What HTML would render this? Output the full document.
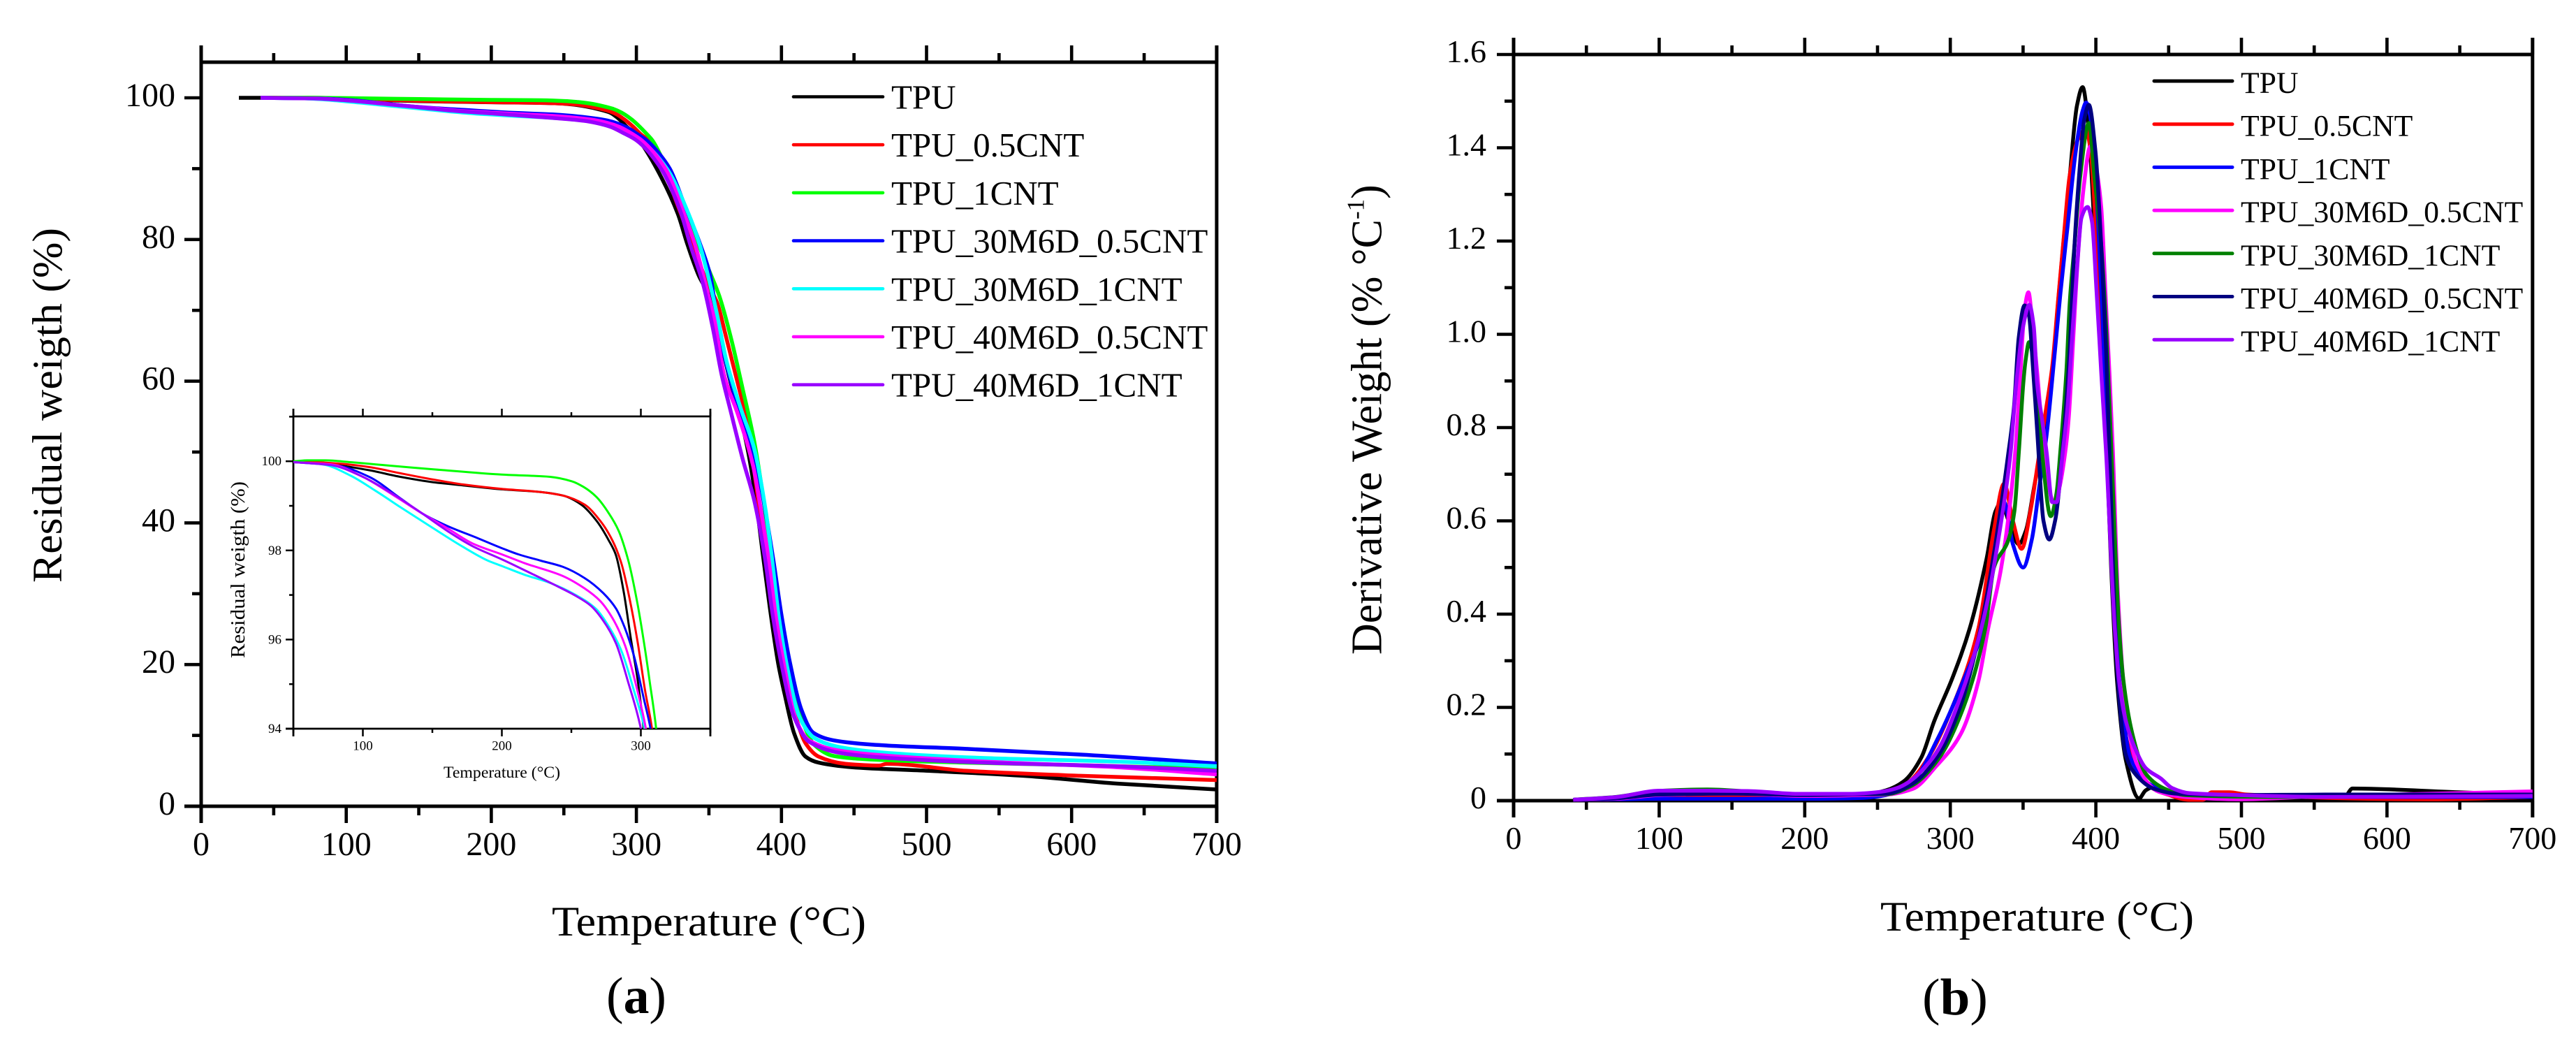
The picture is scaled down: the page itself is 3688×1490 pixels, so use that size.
<!DOCTYPE html>
<html lang="en">
<head>
<meta charset="utf-8">
<title>TGA and DTG curves</title>
<style>
html,body{margin:0;padding:0;background:#fff;width:3688px;height:1490px;overflow:hidden}
#stage{position:absolute;left:0;top:0;width:3688px;height:1490px;overflow:hidden}
svg{display:block;font-family:"Liberation Serif",serif;fill:#000}
</style>
</head>
<body>
<div id="stage">
<svg id="fig" xmlns="http://www.w3.org/2000/svg" width="3688" height="1490" viewBox="0 0 3688 1490">
  <defs>
    <clipPath id="insetClip"><rect x="420" y="596" width="597" height="447"/></clipPath>
  </defs>
  <g id="panelA">
    <text transform="translate(88,834) rotate(-90)" font-size="60" textLength="508" lengthAdjust="spacingAndGlyphs">Residual weigth (%)</text>
    <text x="790" y="1339" font-size="60" textLength="450" lengthAdjust="spacingAndGlyphs">Temperature (°C)</text>
    <text x="868" y="1450" font-size="74" textLength="86" lengthAdjust="spacingAndGlyphs">(<tspan font-weight="bold">a</tspan>)</text>
  </g>
  <g id="panelInset">
    <text transform="translate(350,942) rotate(-90)" font-size="28" textLength="253" lengthAdjust="spacingAndGlyphs">Residual weigth (%)</text>
    <text x="635" y="1113" font-size="23.5" textLength="167" lengthAdjust="spacingAndGlyphs">Temperature (°C)</text>
  </g>
  <g id="panelB">
    <text transform="translate(1977.5,937) rotate(-90)" font-size="62">Derivative Weight (% °C<tspan dy="-25" font-size="35">-1</tspan><tspan dy="25">)</tspan></text>
    <text x="2692" y="1332" font-size="60" textLength="449" lengthAdjust="spacingAndGlyphs">Temperature (°C)</text>
    <text x="2752" y="1452" font-size="74" textLength="94" lengthAdjust="spacingAndGlyphs">(<tspan font-weight="bold">b</tspan>)</text>
  </g>
</svg>
</div>
<script>
// ---------- Panel (a) / inset: residual weight [temperature, weight %] ----------
const tgaTpu = [[26,100],[50,100],[82,99.91],[104.5,99.8],[127,99.65],[150.6,99.53],[172,99.46],[200,99.37],[228,99.31],[244,99.23],[257,99.03],[268,98.67],[277,98.22],[282,97.9],[287.5,97.1],[293,95.98],[297.5,95.14],[302,94],[314,90],[328.6,83.6],[335.2,79.3],[342.8,75],[351.6,71.4],[355.6,67.8],[363.6,60.9],[375.7,51.4],[381.3,44.8],[387.4,35.2],[392,28],[397.8,20.1],[402.2,15.8],[408.7,10.3],[416.6,7],[425.7,6.15],[449,5.5],[501.4,5],[566.6,4.3],[631.8,3.2],[700,2.37]];
const tgaTpu05 = [[41,100],[50,100],[82,99.95],[104.5,99.87],[127,99.73],[150.6,99.59],[172,99.48],[200,99.38],[228,99.31],[244,99.23],[259.5,99.03],[270.6,98.67],[279.6,98.22],[286,97.71],[291,97.05],[297.5,95.98],[303,94.86],[308,94],[318,90.3],[330,84],[338.8,79.3],[349.2,73.7],[355.6,71.1],[362,66.1],[370,59.6],[376.5,54],[382.9,44.8],[389.3,35.2],[395,27],[400.9,20.1],[408.7,13.5],[416.6,8.9],[425.7,7],[444,6],[467.4,5.75],[472.7,6],[527.5,5],[605.8,4.3],[700,3.7]];
const tgaTpu1 = [[41,100],[50,100],[60,100.02],[73,100.02],[91,99.98],[116,99.91],[150.6,99.82],[200,99.7],[234.7,99.65],[250.4,99.55],[259,99.42],[268,99.2],[277,98.83],[284,98.44],[291,97.77],[297.5,96.82],[302,95.98],[306.5,95.03],[311,94],[321,90],[333,84.5],[342.8,79.3],[350.8,75.3],[357.2,72],[365.2,66.1],[373.3,58.9],[381.3,51.4],[387.7,43.1],[392.5,35.2],[399,27],[406,20.1],[415.3,11.6],[423,8.6],[436,7.1],[462.2,6.6],[527.5,6.15],[605.8,5.8],[700,5.3]];
const tga30M05 = [[41,100],[50,99.98],[82,99.9],[104.5,99.65],[127,99.17],[142.6,98.83],[160.6,98.55],[183,98.27],[200,98.05],[212,97.91],[228,97.77],[244,97.63],[259.5,97.38],[273,97.04],[282,96.7],[288.5,96.26],[295,95.64],[302,94.69],[307,94],[315,92.3],[323,90],[333,85],[344,79.3],[350.8,75],[357.2,66.8],[365.2,59.9],[374.9,53.3],[384.5,46.4],[394.1,35.2],[400,27],[406,20.1],[414,13.5],[421.8,10.4],[436,9.3],[462.2,8.7],[527.5,8.1],[605.8,7.3],[700,6.05]];
const tga30M1 = [[41,100],[50,99.98],[71,99.93],[91,99.68],[109,99.34],[127,98.97],[149,98.53],[172,98.08],[190,97.77],[200,97.65],[216.7,97.45],[234.7,97.27],[252.6,97.01],[268,96.68],[277,96.29],[286,95.75],[295,94.86],[302.7,94],[321,90],[336,83.6],[343.6,79.3],[350.8,73.7],[355.6,69.4],[362,62.9],[371.7,56.3],[381.3,50.4],[389.3,41.5],[393.3,35.2],[398,27],[403.5,20.1],[412.6,12.5],[423,9.6],[441.4,8.3],[475,7.5],[540.5,6.8],[631.8,6.3],[700,5.65]];
const tga40M05 = [[41,100],[50,99.98],[77.5,99.93],[100,99.65],[122.4,99.23],[142.6,98.83],[160.6,98.5],[178.6,98.16],[200,97.91],[216.7,97.71],[243.6,97.43],[259.4,97.15],[270.6,96.87],[279.6,96.48],[288.6,95.87],[297.5,94.86],[303.6,94],[320,90],[333,83.6],[340.4,79.3],[347.6,73.7],[354,68.4],[360.4,60.9],[370,55.3],[380.5,48],[386.1,41.5],[390.9,35.2],[396,27],[401.7,20.1],[410,12.2],[419,9.3],[441.4,7.8],[475,7.1],[540.5,6.3],[631.8,5.5],[700,4.5]];
const tga40M1 = [[41,100],[50,99.98],[77.5,99.91],[100,99.65],[122.4,99.25],[142.6,98.83],[160.6,98.44],[178.6,98.1],[200,97.8],[216.7,97.55],[239,97.21],[252.6,96.99],[263.9,96.76],[272.8,96.43],[282,95.92],[291,95.03],[300,94],[317,90],[331,83.6],[337.1,79.3],[346,73.7],[352.4,67.8],[358.8,60.9],[365.2,55.6],[373.3,49],[381.3,43.1],[388.5,35.2],[394,27],[400,20.1],[408.7,12.6],[419,9.1],[441.4,7.5],[475,6.8],[540.5,6.15],[631.8,5.65],[700,5]];

// ---------- Panel (b): derivative weight [temperature, %/°C] ----------
const dtgTpu = [[41,.002],[70,.003],[100,.005],[150,.006],[200,.006],[240,.012],[255.8,.022],[267.9,.041],[280,.092],[289,.171],[301.2,.261],[313.3,.369],[325,.52],[331,.62],[335,.64],[340,.6],[347,.55],[352,.58],[358,.68],[366.2,.82],[370.1,.917],[374.1,1.07],[378.1,1.21],[382.1,1.34],[387,1.49],[390.9,1.53],[395,1.44],[399.7,1.19],[403.7,.993],[406.9,.793],[410.5,.5],[414.6,.256],[420.6,.087],[429.7,.005],[434.2,.022],[440.3,.03],[450,.02],[497.7,.008],[572,.008],[573.3,.016],[576.3,.026],[649,.018],[700,.013]];
const dtgTpu05 = [[41,.002],[70,.004],[100,.009],[150,.01],[200,.008],[240,.012],[255.8,.016],[271,.039],[286,.098],[301.2,.199],[319.3,.369],[330,.58],[337,.68],[343,.6],[349,.54],[355,.62],[360,.72],[365.3,.83],[370,.93],[374,1.07],[378,1.21],[382,1.34],[388,1.42],[393,1.44],[396.5,1.392],[399.7,1.242],[403,1.017],[406.1,.843],[411,.5],[416,.26],[422,.12],[437.2,.03],[449.3,.013],[464.4,.002],[473.5,.002],[479.6,.018],[491.7,.018],[503.8,.013],[627.7,.003],[700,.008]];
const dtgTpu1 = [[41,.002],[70,.003],[100,.004],[150,.004],[200,.004],[240,.006],[255.8,.012],[274,.041],[292,.137],[310.2,.267],[322.3,.369],[330,.53],[337,.64],[343,.55],[350,.5],[356,.56],[361,.67],[366.1,.783],[371.7,.958],[375.7,1.09],[380.5,1.23],[386.1,1.39],[391,1.48],[393.3,1.497],[396,1.47],[399.7,1.34],[404.5,1.04],[407.7,.793],[413,.4],[418,.2],[424,.09],[440,.03],[456,.015],[497.7,.008],[600,.008],[700,.008]];
const dtg30M05 = [[41,.002],[70,.004],[100,.012],[150,.015],[200,.01],[240,.012],[255.8,.013],[274,.025],[290.6,.075],[307.2,.143],[319.3,.256],[326,.369],[335,.5],[344.5,.743],[347.7,.893],[351,1.052],[353.7,1.09],[356.5,1.018],[359.7,.918],[364.5,.748],[371,.64],[374,.66],[379,.748],[381.3,.818],[384.5,.993],[387.7,1.167],[391.7,1.317],[396.2,1.403],[400,1.36],[403.7,1.272],[406.9,1.067],[409.3,.918],[411.7,.748],[415,.45],[420,.22],[428,.08],[443.3,.019],[461.4,.008],[497.7,.003],[558,.01],[649,.016],[700,.02]];
const dtg30M1 = [[41,.002],[70,.008],[100,.021],[133,.024],[161,.02],[197,.014],[240,.014],[255.8,.014],[274,.033],[292,.09],[309,.2],[324,.369],[330,.5],[340,.56],[344,.62],[347,.743],[350.1,.893],[351.7,.943],[354.1,.983],[357.3,.943],[360.5,.843],[363,.748],[369,.61],[373,.66],[375.7,.753],[379.7,.918],[382.1,1.07],[385.3,1.19],[389.3,1.34],[395.2,1.453],[398.9,1.342],[403.7,1.19],[407,1.017],[410.1,.793],[416,.369],[419,.256],[425.1,.143],[434.2,.058],[446.3,.027],[461.4,.012],[528,.008],[700,.01]];
const dtg40M05 = [[41,.002],[70,.005],[100,.013],[150,.015],[200,.012],[240,.014],[255.8,.015],[274,.036],[292,.098],[307.2,.205],[320.8,.369],[330,.53],[339.8,.743],[343.7,.843],[347,.992],[351,1.062],[354.1,1.04],[356.5,.943],[359.7,.793],[364,.6],[368,.56],[372,.6],[378.1,.79],[382.1,.968],[385.3,1.19],[388.5,1.34],[392,1.46],[395.2,1.492],[399.7,1.392],[403.7,1.19],[407,.968],[409.3,.748],[414.6,.284],[420.6,.098],[428.2,.053],[440.3,.025],[455.4,.015],[497.7,.012],[558,.013],[700,.013]];
const dtg40M1 = [[41,.002],[70,.0075],[100.4,.0213],[133.4,.0213],[161,.0205],[197,.0145],[230,.0145],[252.2,.019],[263,.0265],[271,.039],[286,.084],[293.6,.12],[304.2,.199],[316.3,.312],[325,.42],[334,.58],[341.3,.743],[345.3,.893],[350.1,1.018],[354.3,1.063],[357.3,1.018],[359.7,.893],[363,.818],[366.1,.748],[370,.64],[373,.64],[377.3,.748],[380.5,.843],[383.7,.993],[387,1.14],[390.1,1.25],[394.3,1.273],[397.3,1.242],[400.5,1.092],[403.7,.918],[407,.748],[413,.369],[416,.256],[420.6,.171],[428.2,.103],[434.2,.07],[444.8,.047],[452.4,.027],[464.4,.016],[497.7,.012],[558,.008],[700,.01]];

// ---------- Tick values and legend labels ----------
const mainXMajor = [0,100,200,300,400,500,600,700];
const mainXMinor = [50,150,250,350,450,550,650];
const weightYMajor = [0,20,40,60,80,100];
const weightYMinor = [10,30,50,70,90];
const insetXMajor = [100,200,300];
const insetXMinor = [50,150,250,350];
const insetYMajor = [94,96,98,100];
const insetYMinor = [95,97,99,101];
const derivYMajor = [0,0.2,0.4,0.6,0.8,1.0,1.2,1.4,1.6];
const derivYMinor = [0.1,0.3,0.5,0.7,0.9,1.1,1.3,1.5];
const derivYLabels = ["0","0.2","0.4","0.6","0.8","1.0","1.2","1.4","1.6"];
const namesA = ["TPU","TPU_0.5CNT","TPU_1CNT","TPU_30M6D_0.5CNT","TPU_30M6D_1CNT","TPU_40M6D_0.5CNT","TPU_40M6D_1CNT"];
const namesB = ["TPU","TPU_0.5CNT","TPU_1CNT","TPU_30M6D_0.5CNT","TPU_30M6D_1CNT","TPU_40M6D_0.5CNT","TPU_40M6D_1CNT"];
const colorsA = ["#000000","#ff0000","#00ff00","#0000ff","#00ffff","#ff00ff","#9900ff"];
const colorsB = ["#000000","#ff0000","#0000ff","#ff00ff","#008000","#000080","#9900ff"];
const seriesA = [tgaTpu,tgaTpu05,tgaTpu1,tga30M05,tga30M1,tga40M05,tga40M1];
const seriesB = [dtgTpu,dtgTpu05,dtgTpu1,dtg30M05,dtg30M1,dtg40M05,dtg40M1];

// ---------- Axis functions ----------
const xA = t => 288 + t * 2.077;
const yA = v => 1154 - v * 10.14;
const xI = t => 420 + (t - 50) * 1.99;
const yI = v => 1043 - (v - 94) * 63.8;
const xB = t => 2167 + t * 2.084;
const yB = v => 1146 - v * 667.5;

const SVGNS = "http://www.w3.org/2000/svg";
function make(tag, parent) {
  const n = document.createElementNS(SVGNS, tag);
  parent.appendChild(n);
  return n;
}

// Monotone cubic path through the data points (no overshoot at peaks)
function curvePath(points, sx, sy) {
  const n = points.length;
  const h = [], d = [], m = [];
  for (let i = 0; i < n - 1; i++) {
    h[i] = points[i + 1][0] - points[i][0];
    d[i] = (points[i + 1][1] - points[i][1]) / h[i];
  }
  m[0] = d[0];
  m[n - 1] = d[n - 2];
  for (let i = 1; i < n - 1; i++) {
    if (d[i - 1] * d[i] <= 0) { m[i] = 0; continue; }
    const w1 = 2 * h[i] + h[i - 1], w2 = h[i] + 2 * h[i - 1];
    m[i] = (w1 + w2) / (w1 / d[i - 1] + w2 / d[i]);
  }
  let out = "M" + sx(points[0][0]).toFixed(1) + " " + sy(points[0][1]).toFixed(1);
  for (let i = 0; i < n - 1; i++) {
    const x0 = points[i][0], y0 = points[i][1], x1 = points[i + 1][0], y1 = points[i + 1][1];
    const c1x = x0 + h[i] / 3, c1y = y0 + m[i] * h[i] / 3;
    const c2x = x1 - h[i] / 3, c2y = y1 - m[i + 1] * h[i] / 3;
    out += "C" + sx(c1x).toFixed(1) + " " + sy(c1y).toFixed(1) + " " + sx(c2x).toFixed(1) + " " + sy(c2y).toFixed(1) + " " + sx(x1).toFixed(1) + " " + sy(y1).toFixed(1);
  }
  return out;
}

function segment(parent, x1, y1, x2, y2, width, color) {
  const l = make("line", parent);
  l.setAttribute("x1", x1);
  l.setAttribute("y1", y1);
  l.setAttribute("x2", x2);
  l.setAttribute("y2", y2);
  l.setAttribute("stroke", color);
  l.setAttribute("stroke-width", width);
  return l;
}

function label(parent, x, y, size, anchor, str) {
  const t = make("text", parent);
  t.setAttribute("x", x);
  t.setAttribute("y", y);
  t.setAttribute("font-size", size);
  t.setAttribute("text-anchor", anchor);
  t.textContent = str;
  return t;
}

function drawAxes(parent, c) {
  const left = c.sx(c.xMin), right = c.sx(c.xMax), top = c.top, bottom = c.bottom;
  const frame = make("g", parent);
  
  
  const lines = [
    [left, top - c.major, left, bottom + c.major],
    [right, top - c.major, right, bottom + c.major],
    [left - c.major, bottom, right, bottom],
    [left, top, right, top]
  ];
  lines.forEach(p => {
    const l = segment(frame, p[0], p[1], p[2], p[3], c.axisW, "#000");
    
    
  });
  c.xMajor.forEach(v => {
    const x = c.sx(v);
    const b = segment(frame, x, bottom, x, bottom + c.major, c.tickW, "#000");
    
    
    const t = segment(frame, x, top, x, top - c.major, c.tickW, "#000");
    
    
    const lab = label(frame, x, c.xLabelY, c.fontSize, "middle", String(v));
    
    
  });
  c.xMinor.forEach(v => {
    const x = c.sx(v);
    const b = segment(frame, x, bottom, x, bottom + c.minor, c.tickW, "#000");
    
    
    const t = segment(frame, x, top, x, top - c.minor, c.tickW, "#000");
    
    
  });
  c.yMajor.forEach((v, i) => {
    const y = c.sy(v);
    const k = segment(frame, left, y, left - c.major, y, c.tickW, "#000");
    
    
    const text = c.yLabels ? c.yLabels[i] : String(v);
    const lab = label(frame, c.yLabelX, y + c.yLabelDy, c.fontSize, "end", text);
    
    
  });
  c.yMinor.forEach(v => {
    const y = c.sy(v);
    const k = segment(frame, left, y, left - c.minor, y, c.tickW, "#000");
    
    
  });
}

function drawCurves(parent, series, colors, names, sx, sy, width, clip) {
  const g = make("g", parent);
  
  
  if (clip) g.setAttribute("clip-path", clip);
  series.forEach((pts, i) => {
    const p = make("path", g);
    p.setAttribute("d", curvePath(pts, sx, sy));
    p.setAttribute("fill", "none");
    p.setAttribute("stroke", colors[i]);
    p.setAttribute("stroke-width", width);
    p.setAttribute("stroke-linejoin", "round");
    
    
  });
}

function drawLegend(parent, names, colors, o) {
  const g = make("g", parent);
  
  
  names.forEach((n, i) => {
    const y = o.y0 + i * o.step;
    const entry = make("g", g);
    
    
    const s = segment(entry, o.x1 + 2, y, o.x2 - 2, y, o.lineW, colors[i]);
    s.setAttribute("stroke-linecap", "round");
    
    
    const t = label(entry, o.tx, y + 17, o.size, "start", n);
    
    
  });
}

// Inset shows only the part of each series above its y-axis minimum
function insetPart(pts) {
  const cut = pts.findIndex(p => p[1] < 94);
  return cut < 0 ? pts : pts.slice(0, cut + 1);
}

const panelA = document.getElementById("panelA");
const panelInset = document.getElementById("panelInset");
const panelB = document.getElementById("panelB");

// Panel (a)
drawAxes(panelA, {sx:xA, sy:yA, xMin:0, xMax:700, top:89, bottom:1154, major:24, minor:13, axisW:5, tickW:4.6,
  xMajor:mainXMajor, xMinor:mainXMinor, yMajor:weightYMajor, yMinor:weightYMinor,
  fontSize:48, xLabelY:1224, yLabelX:251, yLabelDy:12});
drawCurves(panelA, seriesA, colorsA, namesA, xA, yA, 5.5, null);
drawLegend(panelA, namesA, colorsA, {x1:1134, x2:1266, tx:1276, y0:138.5, step:68.7, lineW:4.6, size:49});

// Inset
drawAxes(panelInset, {sx:xI, sy:yI, xMin:50, xMax:350, top:596, bottom:1043, major:11, minor:6, axisW:2.8, tickW:2.5,
  xMajor:insetXMajor, xMinor:insetXMinor, yMajor:insetYMajor, yMinor:insetYMinor,
  fontSize:19, xLabelY:1073.5, yLabelX:403, yLabelDy:6});
drawCurves(panelInset, seriesA.map(insetPart), colorsA, namesA, xI, yI, 3, "url(#insetClip)");

// Panel (b)
drawAxes(panelB, {sx:xB, sy:yB, xMin:0, xMax:700, top:78, bottom:1146, major:24, minor:13, axisW:5, tickW:4.6,
  xMajor:mainXMajor, xMinor:mainXMinor, yMajor:derivYMajor, yMinor:derivYMinor, yLabels:derivYLabels,
  fontSize:46, xLabelY:1215, yLabelX:2128, yLabelDy:11});
drawCurves(panelB, seriesB, colorsB, namesB, xB, yB, 5.5, null);
drawLegend(panelB, namesB, colorsB, {x1:3082, x2:3198, tx:3208, y0:116, step:61.7, lineW:5, size:43.7});
</script>
</body>
</html>
